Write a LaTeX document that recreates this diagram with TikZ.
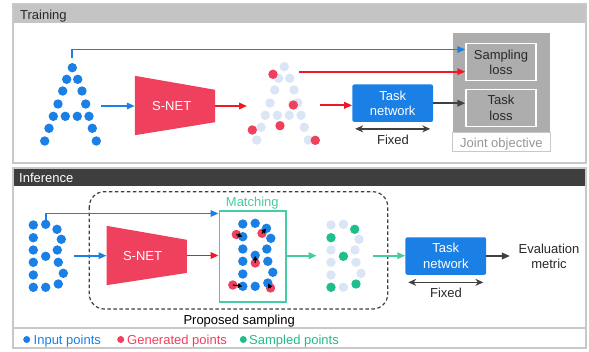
\documentclass[tikz,border=0pt]{standalone}
\usepackage{fontspec}
\setmainfont{Liberation Sans}
\usetikzlibrary{arrows.meta}
\definecolor{gblue}{RGB}{26,128,229}
\definecolor{gred}{RGB}{239,64,94}
\definecolor{arrred}{RGB}{240,24,36}
\definecolor{lightdot}{RGB}{218,230,245}
\definecolor{ggreen}{RGB}{32,190,140}
\definecolor{mint}{RGB}{70,204,162}
\definecolor{panelgray}{RGB}{200,200,200}
\definecolor{headgray}{RGB}{196,196,196}
\definecolor{headdark}{RGB}{62,62,62}
\definecolor{jointgray}{RGB}{173,173,173}
\definecolor{darkline}{RGB}{64,64,64}
\definecolor{textgray}{RGB}{150,150,150}
\definecolor{textdark}{RGB}{40,40,40}
\def\Apts{72.3/67.7,66.7/79.3,77.7/79.3,62.7/91,82/91,58/104,85.7/104,53.3/116.3,65.3/116.3,77.3/116.3,89/116.3,49/128.3,92.3/128.3,44.7/141,96.3/141}
\def\Bpts{33.3/225/lightdot,45.7/224.3/lightdot,57/229.3/ggreen,33.3/237.7/ggreen,61.3/239.3/lightdot,33.3/250/lightdot,57.3/250/lightdot,45.7/256.3/ggreen,33.3/262.3/lightdot,58.3/262.3/lightdot,33.3/275/lightdot,63.3/273.3/lightdot,33.3/287.3/ggreen,45.7/287.3/lightdot,58.3/284/ggreen}
\begin{document}
\begin{tikzpicture}[x=1pt,y=-1pt,font=\fontsize{13}{15.5}\selectfont,
  dot/.style={circle,inner sep=0pt,outer sep=0pt,minimum size=9.4pt},
  ldot/.style={circle,inner sep=0pt,minimum size=7pt},
  arr/.style={line width=1.8pt,-{Triangle[length=8pt,width=6.5pt]}},
  marr/.style={line width=1.1pt,black,-{Triangle[length=4.5pt,width=4.5pt]},shorten >=0.5pt},
  fixarr/.style={line width=1.4pt,darkline,{Stealth[length=8pt,width=7pt]}-{Stealth[length=8pt,width=7pt]}},
  taskbox/.style={fill=gblue,rounded corners=2pt,text=white,align=center,inner sep=0pt,minimum width=80.7pt,minimum height=37.5pt},
  lossbox/.style={draw=white,line width=1.4pt,fill=jointgray,text=textdark,align=center,inner sep=0pt,minimum width=70pt,minimum height=37pt},
  panel/.style={draw=panelgray,line width=1.8pt}
]
\useasboundingbox (0,0) rectangle (589,351);
\fill[white] (0,0) rectangle (589,351);

% ---------------- Training panel
\fill[headgray] (13,4) rectangle (586,23);
\draw[panel] (13,4) rectangle (586,163);
\node[anchor=base west,inner sep=0pt,text=textdark] (ttrain) at (20,19.3) {Training};

% input A
\foreach \x/\y [count=\i] in \Apts {\node[dot,fill=gblue] (a\i) at (\x,\y) {};}
% generated A
\foreach \x/\y [count=\i] in \Apts {\node[dot,fill=lightdot] (g\i) at (\x+212,\y-1) {};}
\foreach \x/\y [count=\i] in {273/74.3,293.3/105,252.3/130,280/125.7,315.3/140.3} {\node[dot,fill=gred] (gr\i) at (\x,\y) {};}

% S-NET (training)
\node[minimum width=80pt,minimum height=59pt,inner sep=0pt] (snet1) at (175,105.5) {};
\fill[gred] (snet1.north west) -- ([yshift=-14pt]snet1.north east) -- ([yshift=13pt]snet1.south east) -- (snet1.south west) -- cycle;
\node[text=white,inner sep=0pt] (snet1t) at (171.7,106.3) {S-NET};

% task network (training)
\node[taskbox] (task1) at (392.7,103.2) {Task\\network};

% joint objective
\node[fill=jointgray,minimum width=97.3pt,minimum height=99.3pt,inner sep=0pt] (jbox) at (501.35,82.65) {};
\node[draw=panelgray,fill=white,line width=1pt,minimum width=97.3pt,minimum height=18.7pt,inner sep=0pt] (jlab) at (501.35,141.65) {};
\node[anchor=base,inner sep=0pt,text=textgray] (jlabt) at (501.35,147.3) {Joint objective};
\node[lossbox] (sloss) at (501,62.2) {Sampling\\loss};
\node[lossbox] (tloss) at (501,108) {Task\\loss};

% training connectors
\coordinate (aout) at (101,106);
\coordinate (gin) at (247,106);
\coordinate (gout) at (320,105.3);
\coordinate (gtop) at (299,71.7);
\draw[arr,gblue] ([yshift=5pt]a1.north) |- ([yshift=12.7pt]sloss.west);
\draw[arr,gblue] (aout) -- (aout -| snet1.west);
\draw[arr,arrred] (snet1.east |- gin) -- (gin);
\draw[arr,arrred] (gout) -- (gout -| task1.west);
\draw[arr,arrred] (gtop) -- (gtop -| sloss.west);
\draw[arr,darkline] (task1.east) -- (task1.east -| tloss.west);
\draw[fixarr] ([xshift=3pt,yshift=-6.7pt]task1.south west) -- ([xshift=-3pt,yshift=-6.7pt]task1.south east);
\node[text=textdark,inner sep=0pt] (fix1) at (393,140) {Fixed};

% ---------------- Inference panel
\fill[headdark] (13,168) rectangle (586,186);
\draw[panel] (13,168) rectangle (586,348);
\draw[panelgray,line width=1.5pt] (13,328) -- (586,328);
\node[anchor=base west,inner sep=0pt,text=white] (tinf) at (19,182.3) {Inference};

% proposed sampling
\draw[darkline,line width=1.2pt,dash pattern=on 3.5pt off 2.5pt,rounded corners=15pt] (89.3,191.7) rectangle (387.7,309);
\node[anchor=base west,inner sep=0pt,text=black] (prop) at (183.3,324.3) {Proposed sampling};

% input B
\foreach \x/\y/\c [count=\i] in \Bpts {\node[dot,fill=gblue] (b\i) at (\x,\y) {};}

% S-NET (inference)
\node[minimum width=80pt,minimum height=59pt,inner sep=0pt] (snet2) at (146.7,255.5) {};
\fill[gred] (snet2.north west) -- ([yshift=-14pt]snet2.north east) -- ([yshift=12.3pt]snet2.south east) -- (snet2.south west) -- cycle;
\node[text=white,inner sep=0pt] (snet2t) at (142.5,256.3) {S-NET};

% matching
\node[draw=mint,line width=1.6pt,minimum width=66.4pt,minimum height=90.7pt,inner sep=0pt] (match) at (252.5,256.35) {};
\node[anchor=base,inner sep=0pt,text=mint] (matcht) at (252.3,206.7) {Matching};
\foreach \x/\y [count=\i] in {236.3/234.5,262/233.3,255.3/263,232.8/285,270.5/288} {\node[dot,fill=gred] (mr\i) at (\x,\y) {};}
\foreach \x/\y/\c [count=\i] in \Bpts {\node[dot,fill=gblue] (m\i) at (\x+209.5,\y-1) {};}
\draw[marr] (mr1.center) -- (m4.center);
\draw[marr] (mr2.center) -- (m3.center);
\draw[marr] (mr3.center) -- (m8.center);
\draw[marr] (mr4.center) -- (m13.center);
\draw[marr] (mr5.center) -- (m15.center);

% sampled B
\foreach \x/\y/\c [count=\i] in \Bpts {\node[dot,fill=\c] (s\i) at (\x+297.7,\y) {};}

% task network (inference)
\node[taskbox] (task2) at (445.8,256) {Task\\network};
\node[align=center,inner sep=0pt,text=textdark] (eval) at (549,256.5) {Evaluation\\metric};

% inference connectors
\coordinate (bout) at (74,255.7);
\coordinate (sin) at (316.7,255.7);
\coordinate (sout) at (373.3,255.7);
\draw[arr,gblue] (b2.north) |- ([yshift=-3.3pt]match.north west);
\draw[arr,gblue] (bout) -- (bout -| snet2.west);
\draw[arr,arrred] (snet2.east) -- (snet2.east -| match.west);
\draw[arr,mint] (match.east |- sin) -- (sin);
\draw[arr,mint] (sout) -- (sout -| task2.west);
\draw[arr,darkline,shorten >=8.5pt] (task2.east) -- (task2.east -| eval.west);
\draw[fixarr] ([xshift=3pt,yshift=-7.4pt]task2.south west) -- ([xshift=-3pt,yshift=-7.4pt]task2.south east);
\node[text=textdark,inner sep=0pt] (fix2) at (446,293.3) {Fixed};

% legend
\node[ldot,fill=gblue] (l1) at (26.7,339.5) {};
\node[anchor=base west,inner sep=0pt,text=gblue] (l1t) at (33.5,344.3) {Input points};
\node[ldot,fill=gred] (l2) at (120.7,339.5) {};
\node[anchor=base west,inner sep=0pt,text=gred] (l2t) at (127,344.3) {Generated points};
\node[ldot,fill=ggreen] (l3) at (243.3,339.5) {};
\node[anchor=base west,inner sep=0pt,text=ggreen] (l3t) at (249,344.3) {Sampled points};
\end{tikzpicture}
\end{document}
